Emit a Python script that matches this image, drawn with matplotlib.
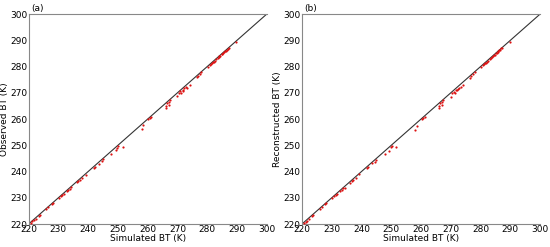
import matplotlib
matplotlib.use("Agg")
import matplotlib.pyplot as plt

sim_a = [220.8, 221.3, 221.8, 222.4, 223.5, 223.8, 226.0, 226.6, 227.8, 228.2,
         230.2, 230.8, 231.3, 231.8, 232.9, 233.4, 233.9, 234.3, 236.2, 236.7,
         237.2, 238.0, 239.3, 242.0, 242.3, 243.6, 244.6, 245.0, 247.8, 249.4,
         249.8, 250.1, 251.6, 258.0, 258.5, 260.2, 260.8, 261.2, 266.0, 266.2,
         266.5, 267.0, 267.2, 267.5, 270.0, 270.5, 271.0, 271.3, 271.7, 272.0,
         272.3, 272.8, 273.3, 274.2, 276.5, 276.8, 277.5, 278.0, 280.2, 280.8,
         281.2, 281.5, 281.9, 282.2, 282.6, 283.1, 283.5, 283.8, 284.1, 284.4,
         284.8, 285.1, 285.4, 285.7, 286.0, 286.3, 286.6, 287.0, 287.3, 289.8]
obs_a = [220.5, 221.0, 221.5, 222.0, 223.0, 223.4, 225.7, 226.3, 227.6, 228.0,
         229.9, 230.6, 231.0, 231.4, 232.5, 233.0, 233.5, 234.0, 235.9, 236.3,
         236.8, 237.5, 238.8, 241.5, 241.8, 243.0, 243.9, 244.6, 246.8, 248.2,
         249.0, 249.6, 249.5, 256.1, 257.6, 259.9, 260.3, 260.8, 264.4, 265.0,
         266.0, 265.3, 266.6, 267.2, 268.6, 269.8, 270.5, 270.0, 271.2, 270.8,
         271.8, 272.3, 272.0, 273.0, 275.9, 276.4, 277.2, 277.9, 279.9, 280.5,
         280.9, 281.2, 281.6, 281.8, 282.2, 282.8, 283.3, 283.6, 283.9, 284.2,
         284.6, 284.9, 285.2, 285.5, 285.8, 286.1, 286.4, 286.8, 287.1, 289.2]

sim_b = sim_a
rec_b = [220.4, 220.9, 221.3, 221.9, 222.9, 223.5, 225.6, 226.4, 227.5, 228.0,
         229.8, 230.5, 231.1, 231.3, 232.6, 232.9, 233.6, 233.9, 235.8, 236.4,
         236.9, 237.4, 238.9, 241.4, 241.9, 243.1, 243.8, 244.5, 246.6, 248.0,
         249.2, 249.7, 249.4, 256.0, 257.5, 260.0, 260.4, 260.6, 264.2, 264.8,
         266.1, 265.4, 266.5, 267.1, 268.5, 269.9, 270.4, 270.1, 271.1, 271.0,
         271.6, 272.0, 272.1, 273.1, 275.8, 276.3, 277.3, 277.8, 279.8, 280.6,
         280.8, 281.3, 281.5, 281.9, 282.3, 282.9, 283.2, 283.7, 284.0, 284.3,
         284.5, 285.0, 285.3, 285.6, 285.9, 286.2, 286.5, 286.9, 287.2, 289.3]

ticks = [220, 230, 240, 250, 260, 270, 280, 290, 300]

fig = plt.figure(figsize=(5.5, 2.47), dpi=100)
panels = [
    (0.052, sim_a, obs_a, "Observed BT (K)", "(a)"),
    (0.549, sim_b, rec_b, "Reconstructed BT (K)", "(b)"),
]
for left, xs, ys, ylab, tag in panels:
    ax = fig.add_axes([left, 0.093, 0.433, 0.85])
    ax.plot([220, 300], [220, 300], color="#333333", lw=0.8)
    ax.scatter(xs, ys, s=2.5, color="#dd1111", zorder=3, linewidths=0)
    ax.set_xlim(220, 300)
    ax.set_ylim(220, 300)
    ax.set_xticks(ticks)
    ax.set_yticks(ticks)
    ax.tick_params(labelsize=6.5, length=0, pad=1)
    ax.set_xlabel("Simulated BT (K)", fontsize=6.5, labelpad=0)
    ax.set_ylabel(ylab, fontsize=6.5, labelpad=1)
    for s in ["left", "bottom", "top"]:
        ax.spines[s].set_color("#888888")
        ax.spines[s].set_linewidth(0.8)
    ax.spines["right"].set_visible(False)
    ax.text(0.01, 1.005, tag, transform=ax.transAxes, fontsize=6.5, va="bottom")

fig.savefig("out.png", dpi=100)
